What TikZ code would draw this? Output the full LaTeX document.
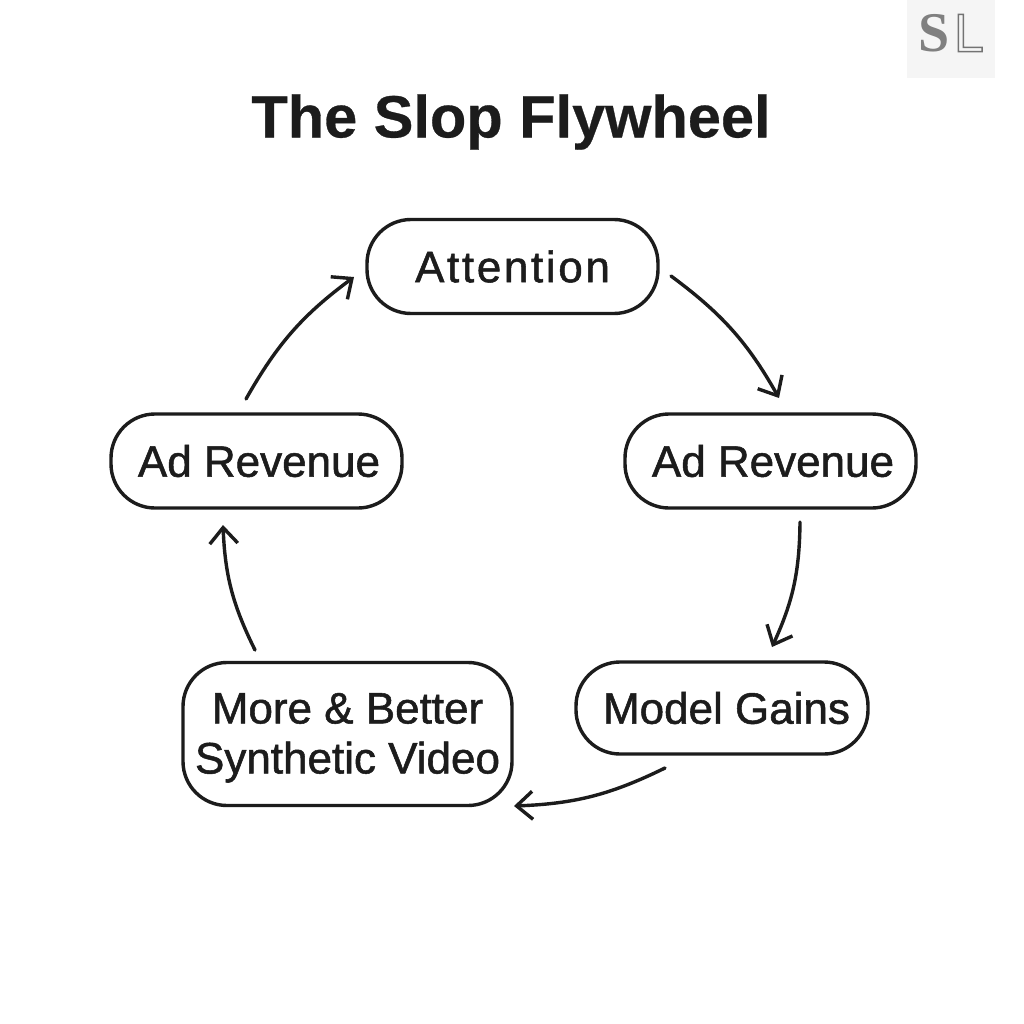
\documentclass[tikz,border=0pt]{standalone}
\usepackage{fontspec}
\setmainfont{Liberation Sans}
\newfontfamily\lblfont[FakeBold=1.2]{Liberation Sans}
\newfontfamily\attfont[FakeBold=1.2,LetterSpace=6]{Liberation Sans}
\newfontfamily\ttlfont[FakeBold=0.5]{Liberation Sans Bold}
\newfontfamily\wmfont{Liberation Serif Bold}
\usetikzlibrary{arrows.meta}
\definecolor{ink}{HTML}{1C1C1C}
\tikzset{
 box/.style={draw=ink,line width=3.4pt,fill=white,text=ink,align=center,font=\lblfont\fontsize{44pt}{50pt}\selectfont,inner sep=0pt},
 flow/.style={draw=ink,line width=3.4pt,line cap=round,-{Straight Barb[length=16pt,width=28pt,line width=3.4pt]}}
}
\begin{document}
\begin{tikzpicture}[x=1pt,y=-1pt]
\useasboundingbox (0,0) rectangle (1024,1024);
\fill[white] (0,0) rectangle (1024,1024);
\node[fill=black!4,minimum width=88pt,minimum height=78pt,inner sep=0pt] (wm) at (951,39) {};
\node[text=black!50,font=\wmfont\fontsize{56pt}{56pt}\selectfont] (wms) at (934.5,33) {S};
\node[text=black!55,font=\fontsize{54pt}{54pt}\selectfont] (wml) at (969,33) {\special{pdf:code 1 Tr 1.5 w}L\special{pdf:code 0 Tr}};
\node[text=ink,font=\ttlfont\fontsize{59.5pt}{60pt}\selectfont] (title) at (511,122) {The Slop Flywheel};
\node[box,minimum width=291pt,minimum height=94pt,rounded corners=44pt] (att) at (512.5,266.5) {\attfont Attention};
\node[box,minimum width=291pt,minimum height=94pt,rounded corners=44pt] (adr) at (770.5,461) {\hspace*{5pt}Ad Revenue};
\node[box,minimum width=291pt,minimum height=94pt,rounded corners=44pt] (adl) at (256.5,461) {\hspace*{5pt}Ad Revenue};
\node[box,minimum width=292pt,minimum height=92pt,rounded corners=44pt] (mod) at (722,708) {\hspace*{9pt}Model Gains};
\node[box,minimum width=329pt,minimum height=143pt,rounded corners=44pt] (syn) at (347.5,734) {\rule{0pt}{38pt}More \& Better\\Synthetic Video};
\coordinate (a1) at (671,276); \coordinate (a2) at (779,398);
\coordinate (b1) at (800,522); \coordinate (b2) at (772,647);
\coordinate (c1) at (665,768); \coordinate (c2) at (514,806);
\coordinate (d1) at (255,650); \coordinate (d2) at (223,525);
\coordinate (e1) at (246,399); \coordinate (e2) at (354,277);
\draw[flow] (a1) to[bend left=12] (a2);
\draw[flow] (b1) to[bend left=12] (b2);
\draw[flow] (c1) to[bend left=12] (c2);
\draw[flow] (d1) to[bend left=12] (d2);
\draw[flow] (e1) to[bend left=12] (e2);
\end{tikzpicture}
\end{document}
